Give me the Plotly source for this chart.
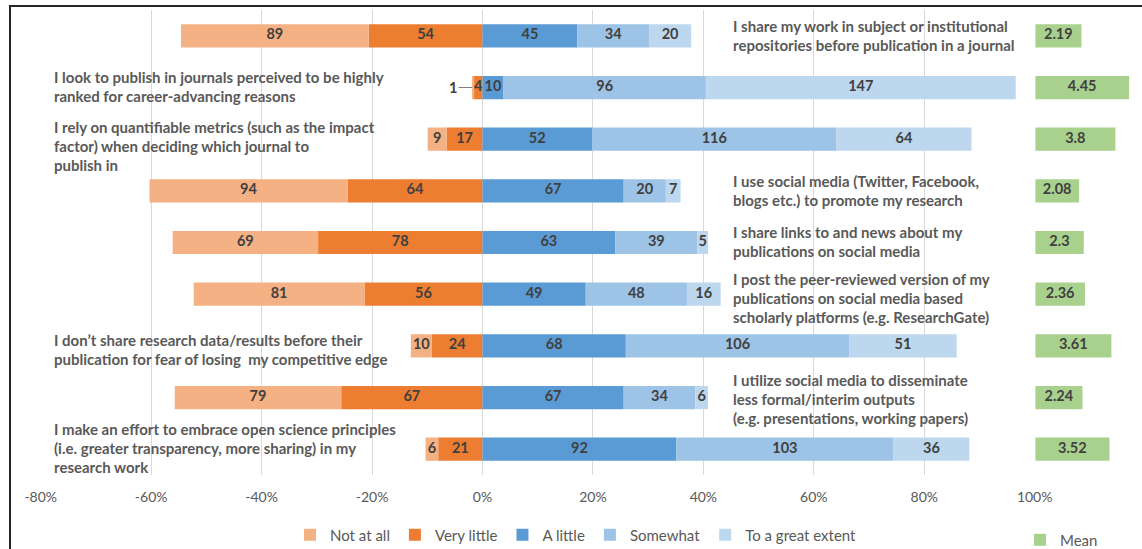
import plotly.graph_objects as go

# Survey statements (one list of display lines per row, top to bottom)
statements = [
    ["I share my work in subject or institutional", "repositories before publication in a journal"],
    ["I look to publish in journals perceived to be highly", "ranked for career-advancing reasons"],
    ["I rely on quantifiable metrics (such as the impact", "factor) when deciding which journal to", "publish in"],
    ["I use social media (Twitter, Facebook,", "blogs etc.) to promote my research"],
    ["I share links to and news about my", "publications on social media"],
    ["I post the peer-reviewed version of my", "publications on social media based", "scholarly platforms (e.g. ResearchGate)"],
    ["I don\u2019t share research data/results before their", "publication for fear of losing\u00a0 my competitive edge"],
    ["I utilize social media to disseminate", "less formal/interim outputs", "(e.g. presentations, working papers)"],
    ["I make an effort to embrace open science principles", "(i.e. greater transparency, more sharing) in my", "research work"],
]
statement_side = ["right", "left", "left", "right", "right", "right", "left", "right", "left"]

# Response counts per statement
not_at_all = [89, 1, 9, 94, 69, 81, 10, 79, 6]
very_little = [54, 4, 17, 64, 78, 56, 24, 67, 21]
a_little = [45, 10, 52, 67, 63, 49, 68, 67, 92]
somewhat = [34, 96, 116, 20, 39, 48, 106, 34, 103]
great_extent = [20, 147, 64, 7, 5, 16, 51, 6, 36]
means = [2.19, 4.45, 3.8, 2.08, 2.3, 2.36, 3.61, 2.24, 3.52]
respondents = 262

tick_vals = [-80, -60, -40, -20, 0, 20, 40, 60, 80, 100]
tick_text = ["-80%", "-60%", "-40%", "-20%", "0%", "20%", "40%", "60%", "80%", "100%"]

# Styling
COLORS = {
    "Not at all": "#F4B183",
    "Very little": "#ED7D31",
    "A little": "#5B9BD5",
    "Somewhat": "#9DC3E6",
    "To a great extent": "#BDD7EE",
    "Mean": "#A9D18E",
}
FONT = "Lato"
TEXT_GRAY = "#595959"
LABEL_DARK = "#404040"
STATEMENT_SIZE = 15
LABEL_SIZE = 14.5

W, H = 1142, 549
M_L, M_R, M_T, M_B = 40, 9, 10, 74
PLOT_W = W - M_L - M_R
PLOT_H = H - M_T - M_B
PX_PER_PCT = 5.522
MAIN_RANGE = [-80.13, 100.1]
main_px = (MAIN_RANGE[1] - MAIN_RANGE[0]) * PX_PER_PCT
split = main_px / PLOT_W
MEAN_PX_PER_UNIT = 21.1
mean_range = [0, (PLOT_W - main_px) / MEAN_PX_PER_UNIT]

rows = list(range(len(statements)))


def pct(values):
    return [v / respondents * 100 for v in values]


fig = go.Figure()

# Diverging stacked bars: negatives stack outward from zero in trace order
series = [
    ("Very little", very_little, -1, 2),
    ("Not at all", not_at_all, -1, 1),
    ("A little", a_little, 1, 3),
    ("Somewhat", somewhat, 1, 4),
    ("To a great extent", great_extent, 1, 5),
]
for name, vals, sign, rank in series:
    fig.add_trace(go.Bar(
        y=rows, x=[sign * p for p in pct(vals)], orientation="h",
        name=name, marker=dict(color=COLORS[name], line=dict(width=0)),
        width=0.45, legendrank=rank, hoverinfo="skip",
    ))

# Segment value labels, centred on each segment
lab_x, lab_y, lab_t = [], [], []
callouts = []
for i in rows:
    # negative side, from zero outward
    edge = 0.0
    for vals in (very_little, not_at_all):
        w = vals[i] / respondents * 100
        centre = -(edge + w / 2)
        if w < 1:
            callouts.append((centre, i, vals[i]))
        else:
            lab_x.append(centre); lab_y.append(i); lab_t.append(str(vals[i]))
        edge += w
    edge = 0.0
    for vals in (a_little, somewhat, great_extent):
        w = vals[i] / respondents * 100
        lab_x.append(edge + w / 2); lab_y.append(i); lab_t.append(str(vals[i]))
        edge += w

fig.add_trace(go.Scatter(
    x=lab_x, y=lab_y, text=lab_t, mode="text", showlegend=False, hoverinfo="skip",
    textfont=dict(family=FONT, size=LABEL_SIZE, color=LABEL_DARK, weight=700),
))

for cx, cy, val in callouts:
    fig.add_annotation(
        x=cx, y=cy, text=str(val), showarrow=True, arrowhead=0, arrowwidth=1,
        arrowcolor="#7F7F7F", ax=-20, ay=0, standoff=1,
        font=dict(family=FONT, size=LABEL_SIZE, color=LABEL_DARK, weight=700),
    )

# Mean score bars on their own axis to the right
fig.add_trace(go.Bar(
    y=rows, x=means, orientation="h", xaxis="x2", name="Mean",
    marker=dict(color=COLORS["Mean"], line=dict(width=0)), width=0.45,
    legend="legend2", hoverinfo="skip",
))
fig.add_trace(go.Scatter(
    x=[m / 2 for m in means], y=rows, xaxis="x2", text=[f"{m:g}" for m in means],
    mode="text", showlegend=False, hoverinfo="skip",
    textfont=dict(family=FONT, size=LABEL_SIZE, color=LABEL_DARK, weight=700),
))

# Statement texts beside the bars
block_offset = [0, -0.6, 6.7, -0.5, -1, 3.8, 3.4, 1, -1.6]
LINE_H = 19
for i, lines in enumerate(statements):
    n = len(lines)
    for k, line in enumerate(lines):
        dy = block_offset[i] + (k - (n - 1) / 2) * LINE_H
        fig.add_annotation(
            x=45 if statement_side[i] == "right" else -78, y=i,
            xanchor="left", yanchor="middle", yshift=-dy, showarrow=False,
            text=line, font=dict(family=FONT, size=STATEMENT_SIZE, color=TEXT_GRAY, weight=700),
        )

# Outer frame
fig.add_shape(
    type="rect", xref="paper", yref="paper",
    x0=(10 - M_L) / PLOT_W, x1=1.2, y0=-0.4, y1=1 + (M_T - 6) / PLOT_H,
    line=dict(color="#262626", width=2), fillcolor="rgba(0,0,0,0)", layer="above",
)

fig.update_layout(
    width=W, height=H, margin=dict(l=M_L, r=M_R, t=M_T, b=M_B, autoexpand=False),
    paper_bgcolor="white", plot_bgcolor="white",
    barmode="relative", bargap=0.55,
    font=dict(family=FONT, color=TEXT_GRAY),
    xaxis=dict(
        domain=[0, split], range=MAIN_RANGE, tickvals=tick_vals, ticktext=tick_text,
        showgrid=True, gridcolor="#D9D9D9", gridwidth=1, zeroline=False, showline=False,
        ticks="", ticklabelstandoff=12, tickfont=dict(family=FONT, size=14, color=TEXT_GRAY),
        automargin=False,
    ),
    xaxis2=dict(
        domain=[split, 1], range=mean_range, anchor="y", visible=False,
        showgrid=False, zeroline=False,
    ),
    yaxis=dict(
        range=[len(rows) - 0.5, -0.5], visible=False, showgrid=False, zeroline=False,
    ),
    legend=dict(
        orientation="h", x=(576 - M_L) / PLOT_W, xanchor="center",
        y=-(535 - (H - M_B)) / PLOT_H, yanchor="middle",
        font=dict(family=FONT, size=15, color=TEXT_GRAY), traceorder="normal",
        bgcolor="rgba(0,0,0,0)", itemwidth=30,
    ),
    legend2=dict(
        orientation="h", x=(1020 - M_L) / PLOT_W, xanchor="left",
        y=-(540 - (H - M_B)) / PLOT_H, yanchor="middle",
        font=dict(family=FONT, size=15, color=TEXT_GRAY), bgcolor="rgba(0,0,0,0)",
    ),
)

fig.write_html("out.html")
